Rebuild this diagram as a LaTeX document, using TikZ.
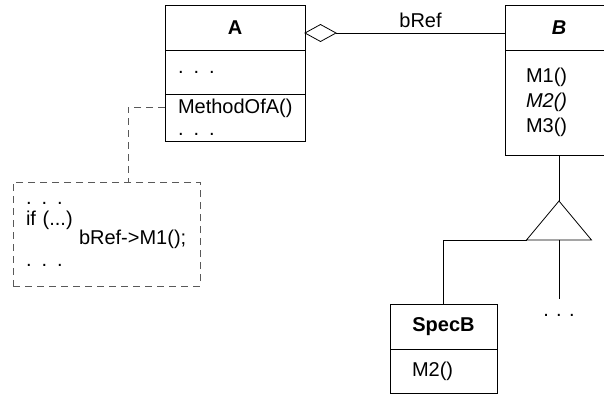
\documentclass[tikz,border=0pt]{standalone}
\usepackage{fontspec}
\setmainfont{Liberation Sans}
\usetikzlibrary{positioning,shapes.geometric}

\begin{document}
\begin{tikzpicture}[x=1pt,y=-1pt,line width=0.8pt,
    every node/.style={outer sep=0pt,font=\fontsize{20}{25}\selectfont},
    head/.style={draw,minimum height=45pt,font=\fontsize{20}{25}\selectfont\bfseries},
    part/.style={draw,align=left},
    noteline/.style={draw=black!65,dash pattern=on 7pt off 5pt}]

    \useasboundingbox (0,0) rectangle (604,394);

    \node[head,minimum width=140pt] (A) at (235,27.5) {A};
    \node[part,text width=114pt,inner xsep=13pt,minimum height=44pt,below=0pt of A] (Aattr) {. . .};
    \node[part,text width=114pt,inner xsep=13pt,minimum height=47pt,below=0pt of Aattr] (Aops) {MethodOfA()\\[-3pt]. . .};

    \node[head,minimum width=108pt,font=\fontsize{20}{25}\selectfont\bfseries\itshape] (B) at (559,27.5) {B};
    \node[part,text width=66pt,inner xsep=21pt,minimum height=105pt,below=0pt of B] (Bops) {M1()\\\textit{M2()}\\M3()};

    \node[head,minimum width=107pt] (SpecB) at (443.5,326.5) {SpecB};
    \node[part,text width=63pt,inner xsep=22pt,minimum height=44pt,below=0pt of SpecB] (SpecBops) {M2()};

    \node[draw,diamond,minimum width=31pt,minimum height=17pt,inner sep=0pt,anchor=west] (agg) at ([yshift=-5.5pt]A.east) {};
    \draw (agg.east) -- (B.west |- agg) node[midway,above=2pt] (role) {bRef};

    %\draw[red] (0,0) grid (604,394);

    \coordinate (gen) at (559,201);
    \draw (Bops.south) -- (gen);
    \draw (gen) -- ++(32.5,39) coordinate (genR) -- ++(-65,0) coordinate (genL) -- cycle;
    \draw (genL) -- (genL -| SpecB.north) -- (SpecB.north);
    \draw (gen |- genL) -- ++(0,59) coordinate (more);
    \node[below=12pt of more] (dots) {. . .};

    \node[noteline,text width=161pt,inner xsep=13pt,minimum height=104pt,align=left] (note) at (106.5,234)
        {. . .\\[-4pt]if (...)\\[-6pt]\hspace*{53pt}bRef->M1();\\[-3pt]. . .};
    \draw[noteline] ([yshift=10.5pt]Aops.west) -| ([xshift=21.5pt]note.north);
\end{tikzpicture}
\end{document}
